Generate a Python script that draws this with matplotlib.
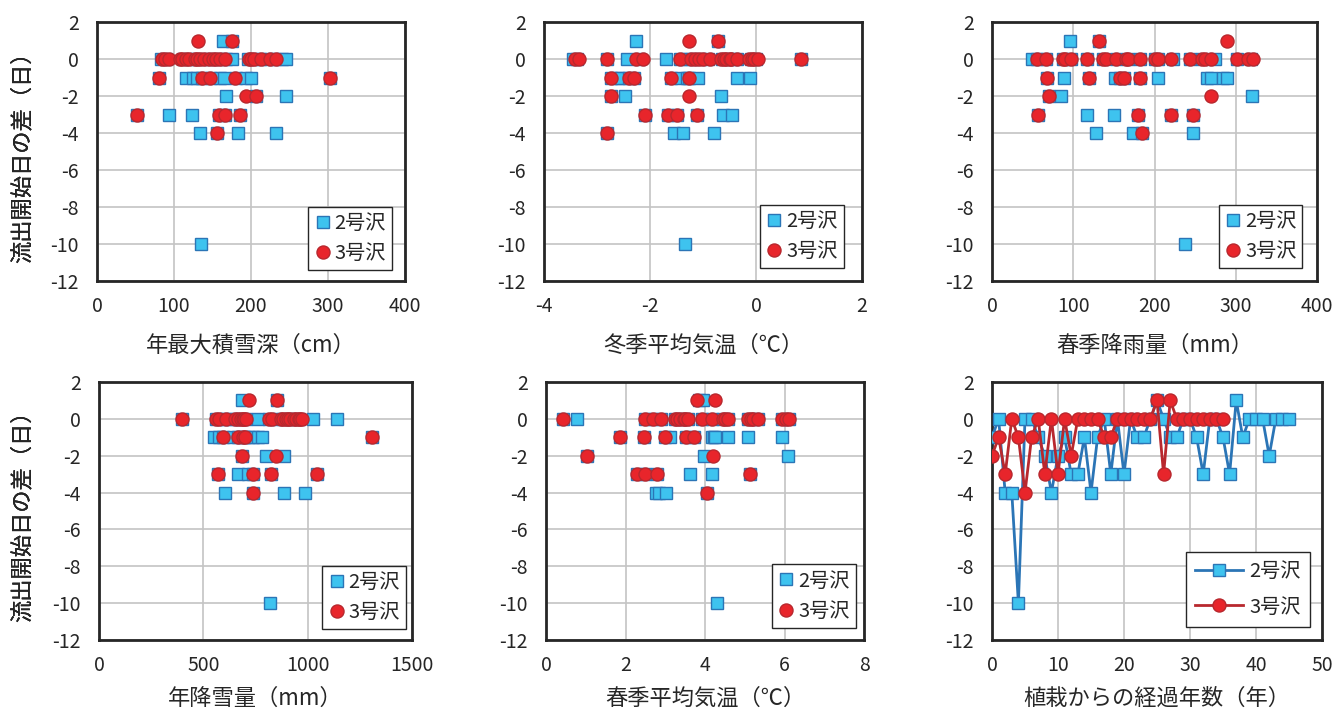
import matplotlib
matplotlib.use("Agg")
import matplotlib.pyplot as plt

plt.rcParams["font.family"] = ["Noto Sans CJK JP", "DejaVu Sans"]
plt.rcParams["axes.unicode_minus"] = False

# y values (流出開始日の差, 日) grouped by level, same order as the x lists below
diff2 = [1, 1,
         0, 0, 0, 0, 0, 0, 0, 0, 0, 0, 0, 0, 0, 0, 0, 0, 0, 0,
         -1, -1, -1, -1, -1, -1, -1, -1, -1, -1, -1, -1,
         -2, -2, -2,
         -3, -3, -3, -3, -3, -3,
         -4, -4, -4, -4,
         -10]
diff3 = [1, 1,
         0, 0, 0, 0, 0, 0, 0, 0, 0, 0, 0, 0, 0, 0, 0, 0, 0, 0, 0, 0, 0, 0,
         -1, -1, -1, -1, -1,
         -2, -2,
         -3, -3, -3, -3,
         -4]

# 年最大積雪深 (cm)
snow_depth2 = [164, 175,
               83, 90, 112, 120, 128, 137, 145, 152, 160, 168, 175, 196, 204, 212, 222, 230, 240, 245,
               81, 115, 125, 130, 136, 148, 160, 165, 180, 193, 200, 302,
               167, 207, 245,
               52, 94, 123, 158, 166, 186,
               134, 156, 183, 232,
               135]
snow_depth3 = [131, 175,
               85, 88, 94, 108, 110, 115, 120, 127, 130, 134, 139, 146, 150, 154, 160, 166, 197, 200, 204, 213, 225, 232,
               81, 136, 147, 179, 302,
               193, 207,
               52, 158, 166, 186,
               156]

# 冬季平均気温 (℃)
winter_temp2 = [-2.26, -0.71,
                -3.45, -3.38, -2.81, -2.44, -2.2, -1.69, -1.44, -1.3, -1.2, -1.05, -0.9, -0.65, -0.55, -0.45, -0.35, -0.1, 0.0, 0.85,
                -2.73, -2.6, -2.54, -2.39, -2.3, -1.6, -1.44, -1.3, -1.26, -1.1, -0.35, -0.11,
                -2.73, -2.48, -0.66,
                -2.09, -1.66, -1.49, -1.11, -0.62, -0.45,
                -2.81, -1.55, -1.37, -0.80,
                -1.34]
winter_temp3 = [-1.27, -0.71,
                -3.42, -3.34, -2.81, -2.26, -2.13, -1.44, -1.22, -1.15, -1.07, -1.0, -0.86, -0.66, -0.6, -0.56, -0.5, -0.48, -0.36, -0.13, -0.08, -0.03, 0.03, 0.85,
                -2.73, -2.39, -2.30, -1.60, -1.26,
                -2.73, -1.27,
                -2.09, -1.66, -1.49, -1.11,
                -2.81]

# 春季降雨量 (mm)
spring_rain2 = [96, 132,
                49, 55, 66, 87, 97, 117, 137, 153, 167, 182, 200, 204, 223, 244, 259, 274, 302, 319,
                68, 88, 119, 151, 157, 163, 182, 204, 264, 269, 284, 289,
                70, 85, 320,
                56, 117, 150, 180, 220, 247,
                128, 174, 184, 247,
                237]
spring_rain3 = [132, 289,
                55, 66, 87, 90, 97, 117, 137, 140, 153, 165, 167, 182, 200, 204, 220, 244, 259, 262, 270, 302, 315, 321,
                68, 119, 157, 163, 182,
                70, 269,
                56, 180, 220, 247,
                184]

# 年降雪量 (mm)
snowfall2 = [686, 853,
             399, 561, 590, 609, 640, 665, 681, 705, 760, 813, 850, 880, 896, 920, 936, 957, 1024, 1140,
             553, 575, 593, 640, 665, 689, 700, 718, 740, 761, 780, 1308,
             686, 800, 888,
             569, 668, 713, 737, 824, 1043,
             606, 737, 885, 989,
             821]
snowfall3 = [718, 853,
             399, 561, 575, 609, 650, 665, 681, 690, 695, 705, 813, 830, 870, 880, 896, 905, 915, 936, 945, 957, 965, 973,
             593, 665, 689, 700, 1308,
             686, 848,
             569, 737, 824, 1043,
             737]

# 春季平均気温 (℃)
spring_temp2 = [3.85, 3.96,
                0.44, 0.78, 2.50, 2.70, 2.89, 3.25, 3.36, 3.46, 3.57, 3.92, 4.17, 4.45, 4.59, 5.09, 5.22, 5.34, 5.93, 6.12,
                1.87, 2.47, 3.0, 3.12, 3.53, 3.73, 4.17, 4.22, 4.25, 4.59, 5.09, 5.93,
                1.03, 3.98, 6.10,
                2.29, 2.50, 2.78, 3.63, 4.17, 5.12,
                2.76, 2.85, 3.01, 4.05,
                4.31]
spring_temp3 = [3.81, 4.25,
                0.44, 2.50, 2.70, 2.89, 3.25, 3.3, 3.36, 3.46, 3.5, 3.57, 3.92, 4.17, 4.45, 4.5, 4.59, 5.09, 5.15, 5.22, 5.34, 5.93, 6.05, 6.12,
                1.87, 2.47, 3.0, 3.53, 3.73,
                1.03, 4.19,
                2.29, 2.50, 2.78, 5.12,
                4.05]

# 植栽からの経過年数 vs 差 (time series)
years2 = list(range(0, 46))
series2 = [-1, 0, -4, -4, -10, 0, 0, -1, -2, -4,
           -2, -1, -3, -3, -1, -4, -1, 0, -3, 0,
           -3, 0, -1, -1, 0, 1, 0, -1, -1, 0,
           0, -1, -3, 0, 0, -1, -3, 1, -1, 0,
           0, 0, -2, 0, 0, 0]
years3 = list(range(0, 36))
series3 = [-2, -1, -3, 0, -1, -4, -1, 0, -3, 0,
           -3, 0, -2, 0, 0, 0, 0, -1, -1, 0,
           0, 0, 0, 0, 0, 1, -3, 1, 0, 0,
           0, 0, 0, 0, 0, 0]

labels = ["2号沢", "3号沢"]

BLUE_FACE = "#3ec3ef"
BLUE_EDGE = "#2b75b6"
RED_FACE = "#e8252b"
RED_EDGE = "#b8282e"
TXT = "#262626"

W, H = 1336, 718
fig = plt.figure(figsize=(W / 100, H / 100), dpi=100)


def make_ax(l, t, r, b):
    ax = fig.add_axes([l / W, 1 - b / H, (r - l) / W, (b - t) / H])
    ax._box = (l, t, r, b)
    return ax


def style(ax, xlim, xstep, xlabel, xlab_off):
    l, t, r, b = ax._box
    ax.set_xlim(*xlim)
    ax.set_ylim(-12, 2)
    n = int(round((xlim[1] - xlim[0]) / xstep))
    ax.set_xticks([xlim[0] + i * xstep for i in range(n + 1)])
    ax.set_yticks(range(-12, 3, 2))
    ax.grid(True, color="#c4c4c4", linewidth=1.2, zorder=0)
    ax.set_axisbelow(True)
    ax.tick_params(length=0, labelsize=14, colors=TXT)
    ax.tick_params(axis="x", pad=11)
    ax.tick_params(axis="y", pad=13)
    for sp in ax.spines.values():
        sp.set_linewidth(2.0)
        sp.set_color("#262626")
    ax.set_xlabel(xlabel, fontsize=16, color=TXT)
    ax.set_ylabel("流出開始日の差（日）", fontsize=16, color=TXT)
    ax.xaxis.set_label_coords(0.5, -xlab_off / (b - t))
    ax.yaxis.set_label_coords(-(l - 22) / (r - l), 0.5)
    ax.xaxis.label.set_va("center")
    ax.yaxis.label.set_va("center")


def scatter_panel(box, x2, x3, xlim, xstep, xlabel, leg_anchor, xlab_off):
    ax = make_ax(*box)
    ax.plot(x2, diff2, ls="none", marker="s", ms=8.5, mfc=BLUE_FACE, mec=BLUE_EDGE,
            mew=1.0, label=labels[0], zorder=3)
    ax.plot(x3, diff3, ls="none", marker="o", ms=9.4, mfc=RED_FACE, mec=RED_EDGE,
            mew=1.0, label=labels[1], zorder=4)
    style(ax, xlim, xstep, xlabel, xlab_off)
    leg = ax.legend(loc="lower right", bbox_to_anchor=leg_anchor, fontsize=14.5,
                    frameon=True, fancybox=False, framealpha=1, edgecolor="#262626",
                    handlelength=0.8, handletextpad=0.2, labelspacing=0.45, borderpad=0.3,
                    borderaxespad=0)
    leg.get_frame().set_linewidth(1.0)
    for t in leg.get_texts():
        t.set_color(TXT)
    return ax


scatter_panel((97, 22, 405, 281), snow_depth2, snow_depth3, (0, 400), 100,
              "年最大積雪深（cm）", (0.958, 0.042), 64)
scatter_panel((544, 22, 862, 281), winter_temp2, winter_temp3, (-4, 2), 2,
              "冬季平均気温（℃）", (0.942, 0.05), 64)
scatter_panel((992, 22, 1317, 281), spring_rain2, spring_rain3, (0, 400), 100,
              "春季降雨量（mm）", (0.955, 0.05), 64)
scatter_panel((99, 382, 412, 640), snowfall2, snowfall3, (0, 1500), 500,
              "年降雪量（mm）", (0.981, 0.043), 58)
scatter_panel((546, 382, 864, 640), spring_temp2, spring_temp3, (0, 8), 2,
              "春季平均気温（℃）", (0.974, 0.048), 58)

ax6 = make_ax(992, 382, 1322, 640)
ax6.plot(years2, series2, color=BLUE_EDGE, lw=2.0, marker="s", ms=8.5, mfc=BLUE_FACE,
         mec=BLUE_EDGE, mew=1.0, label=labels[0], zorder=3)
ax6.plot(years3, series3, color=RED_EDGE, lw=2.0, marker="o", ms=9.4, mfc=RED_FACE,
         mec=RED_EDGE, mew=1.0, label=labels[1], zorder=4)
style(ax6, (0, 50), 10, "植栽からの経過年数（年）", 58)
leg6 = ax6.legend(loc="lower right", bbox_to_anchor=(0.963, 0.052), fontsize=14.5,
                  frameon=True, fancybox=False, framealpha=1, edgecolor="#262626",
                  handlelength=2.4, handletextpad=0.3, labelspacing=0.7, borderpad=0.45,
                  borderaxespad=0)
leg6.get_frame().set_linewidth(1.0)
for t in leg6.get_texts():
    t.set_color(TXT)

fig.savefig("out.png", dpi=100)
